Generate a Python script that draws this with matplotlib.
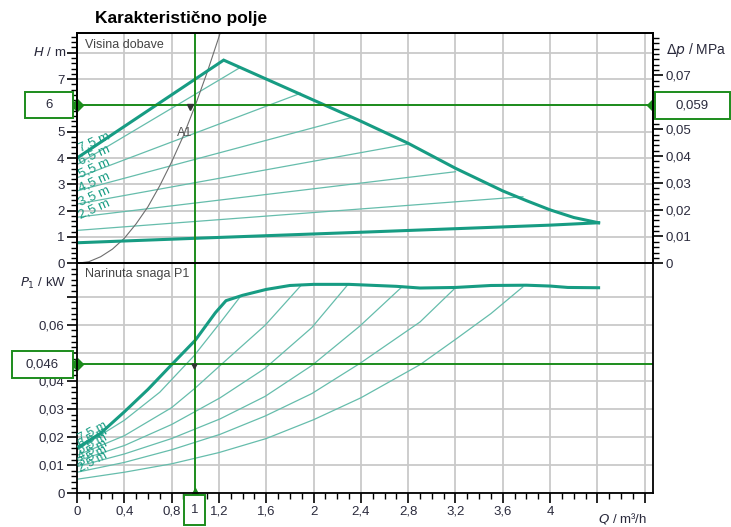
import matplotlib.pyplot as plt
import matplotlib.ticker as mticker
from matplotlib.patches import Rectangle

plt.rcParams['font.family'] = ['Liberation Sans', 'DejaVu Sans']

# ---- data ----
setpoints = ["7,5 m", "6,5 m", "5,5 m", "4,5 m", "3,5 m", "2,5 m"]

# delivery head, max / min curves
hmax_q = [0, 1.24, 2.0, 2.39, 2.8, 3.2, 3.6, 3.8, 4.0, 4.2, 4.41]
hmax_h = [4.0, 7.72, 6.2, 5.42, 4.56, 3.61, 2.75, 2.38, 2.03, 1.74, 1.54]
hmin_q = [0, 1.0, 2.4, 4.0, 4.41]
hmin_h = [0.78, 0.95, 1.18, 1.45, 1.54]

# dp-v control lines (straight), start at Q=0
dpv_start_h = [3.75, 3.25, 2.75, 2.25, 1.75, 1.25]
dpv_end_q = [1.38, 1.89, 2.33, 2.8, 3.2, 3.77]
dpv_end_h = [7.44, 6.46, 5.55, 4.53, 3.48, 2.53]

# system curve
sys_q = [0, 0.1, 0.2, 0.3, 0.4, 0.5, 0.6, 0.7, 0.8, 0.9, 1.0, 1.1, 1.2, 1.25]
sys_h = [0, 0.06, 0.25, 0.54, 0.95, 1.5, 2.15, 2.95, 3.85, 4.85, 6.0, 7.25,
         8.6, 9.3]

# power input P1, max curve
pmax_q = [0, 0.2, 0.4, 0.6, 0.8, 1.0, 1.17, 1.26, 1.4, 1.6, 1.8, 2.0, 2.3,
          2.7, 2.9, 3.2, 3.5, 3.8, 4.0, 4.15, 4.41]
pmax_p = [0.0161, 0.0214, 0.0290, 0.0370, 0.0458, 0.0545, 0.0643, 0.0686,
          0.0705, 0.0726, 0.0740, 0.0744, 0.0744, 0.0737, 0.0731, 0.0733,
          0.0740, 0.0741, 0.0738, 0.0733, 0.0732]

# power for each dp-v line
p_q = [
    [0, 0.4, 0.7, 0.99, 1.21, 1.38],
    [0, 0.4, 0.8, 1.0, 1.21, 1.59, 1.9],
    [0, 0.4, 0.8, 1.21, 1.59, 1.985, 2.29],
    [0, 0.4, 0.8, 1.21, 1.59, 1.985, 2.39, 2.75],
    [0, 0.4, 0.8, 1.21, 1.59, 1.985, 2.39, 2.9, 3.2],
    [0, 0.4, 0.8, 1.2, 1.6, 2.0, 2.4, 2.9, 3.2, 3.5, 3.77],
]
p_p = [
    [0.0155, 0.026, 0.036, 0.049, 0.0607, 0.0700],
    [0.0135, 0.0205, 0.0305, 0.0375, 0.0455, 0.0598, 0.0743],
    [0.0115, 0.0170, 0.0245, 0.0340, 0.0445, 0.0590, 0.0743],
    [0.0095, 0.0140, 0.0195, 0.0265, 0.0345, 0.0455, 0.0595, 0.0736],
    [0.0075, 0.0110, 0.0155, 0.0210, 0.0275, 0.0355, 0.0462, 0.0610, 0.0732],
    [0.005, 0.0075, 0.0105, 0.0145, 0.0195, 0.0262, 0.0340, 0.0458, 0.0548,
     0.0640, 0.0735],
]

duty_q = 1.0
duty_h = 6.0
duty_dp = "0,059"
duty_p = 0.046

teal = '#179c83'
teal_thin = '#66bdac'
green = '#1c8c1c'
grid_c = '#c9c9c9'
txt_c = '#2a2a3c'

W, H = 731, 527
fig = plt.figure(figsize=(W / 100, H / 100), dpi=100)
ax1 = fig.add_axes([77 / W, 1 - 263.3 / H, 576 / W, 230.3 / H])
ax2 = fig.add_axes([77 / W, 1 - 493.3 / H, 576 / W, 230 / H])

for ax in (ax1, ax2):
    ax.set_xlim(0, 4.87)
    for s in ax.spines.values():
        s.set_linewidth(1.3)
    ax.set_axisbelow(True)
    ax.xaxis.set_major_locator(mticker.MultipleLocator(0.4))
    ax.grid(True, color=grid_c, lw=1.3)

# ---- upper panel ----
ax1.set_ylim(0, 8.75)
ax1.set_yticks(range(0, 9))
ax1.set_yticklabels(["0", "1", "2", "3", "4", "5", "", "7", ""])
ax1.yaxis.set_minor_locator(mticker.MultipleLocator(0.2))
ax1.tick_params(axis='x', bottom=False, labelbottom=False)
ax1.tick_params(axis='y', which='major', length=7, width=1.2, labelsize=9.5,
                labelcolor=txt_c, pad=2)
ax1.tick_params(axis='y', which='minor', length=4, width=1.0)

for i in range(len(setpoints)):
    ax1.plot([0, dpv_end_q[i]], [dpv_start_h[i], dpv_end_h[i]], color=teal_thin, lw=0.9)
ax1.plot(sys_q, sys_h, color='#6e6e6e', lw=0.8)
ax1.plot(hmax_q, hmax_h, color=teal, lw=2.2, solid_joinstyle='miter')
ax1.plot(hmin_q, hmin_h, color=teal, lw=2.2)

lab_h = [4.25, 3.75, 3.25, 2.72, 2.2, 1.7]
for s, y in zip(setpoints, lab_h):
    ax1.text(0.03, y, s, color=teal, fontsize=9.5, rotation=24,
             rotation_mode='anchor', ha='left', va='baseline')

ax1.axhline(duty_h, color=green, lw=1.4)
ax1.axvline(duty_q, color=green, lw=1.4)
ax1.plot([0], [duty_h], marker='D', ms=6, color=green, clip_on=False)
ax1.plot([4.87], [duty_h], marker='D', ms=6, color=green, clip_on=False)
ax1.plot([0.955], [5.92], marker='v', ms=5, color='#333333')
ax1.text(0.91, 4.95, "A1", fontsize=9, color='#555555', ha='center', va='center')
ax1.text(0.07, 8.3, "Visina dobave", fontsize=9, color='#444444', va='center')

axr = ax1.twinx()
axr.set_ylim(0, 8.75 * 0.00981)
axr.set_yticks([i / 100 for i in range(8)])
axr.set_yticklabels(["0", "0,01", "0,02", "0,03", "0,04", "0,05", "", "0,07"])
axr.yaxis.set_minor_locator(mticker.MultipleLocator(0.002))
axr.tick_params(axis='y', which='major', length=7, width=1.2, labelsize=9.5,
                labelcolor=txt_c, pad=2)
axr.tick_params(axis='y', which='minor', length=4, width=1.0)
for s in axr.spines.values():
    s.set_linewidth(1.3)

# ---- lower panel ----
ax2.set_ylim(0, 0.0819)
ax2.set_yticks([i / 100 for i in range(8)])
ax2.set_yticklabels(["0", "0,01", "0,02", "0,03", "0,04", "", "0,06", ""])
ax2.yaxis.set_minor_locator(mticker.MultipleLocator(0.002))
ax2.xaxis.set_minor_locator(mticker.MultipleLocator(0.1))
xt = [i * 0.4 for i in range(13)]
ax2.set_xticks(xt)
ax2.set_xticklabels([f"{round(v, 1):g}".replace('.', ',') for v in xt[:11]] + ["", ""])
ax2.tick_params(which='major', length=7, width=1.2, labelsize=9.5,
                labelcolor=txt_c, pad=2)
ax2.tick_params(which='minor', length=4.5, width=1.0)

for q, p in zip(p_q, p_p):
    ax2.plot(q, p, color=teal_thin, lw=0.9)
ax2.plot(pmax_q, pmax_p, color=teal, lw=2.2)

lab_p = [0.0185, 0.0162, 0.0140, 0.0118, 0.0097, 0.0076]
for s, y in zip(setpoints, lab_p):
    ax2.text(0.03, y, s, color=teal, fontsize=9, rotation=28,
             rotation_mode='anchor', ha='left', va='baseline')

ax2.axhline(duty_p, color=green, lw=1.4)
ax2.axvline(duty_q, color=green, lw=1.4)
ax2.plot([0], [duty_p], marker='D', ms=6, color=green, clip_on=False)
ax2.plot([duty_q], [0], marker='^', ms=7, color=green, clip_on=False)
ax2.plot([0.985], [0.0452], marker='v', ms=3.5, color='#333333')
ax2.text(0.07, 0.0782, "Narinuta snaga P1", fontsize=9, color='#444444', va='center')

# ---- axis titles ----
fig.text(95 / W, 1 - 18 / H, "Karakteristično polje", fontsize=12.5,
         fontweight='bold', va='center', ha='left')
fig.text(66 / W, 1 - 52 / H, r"$H$ / m", fontsize=9.5, color=txt_c,
         ha='right', va='center')
fig.text(666 / W, 1 - 50 / H, r"$\Delta p$ / MPa", fontsize=10, color=txt_c,
         ha='left', va='center')
fig.text(66 / W, 1 - 283 / H, r"$P_1$ / kW", fontsize=9.5, color=txt_c,
         ha='right', va='center')
fig.text(598 / W, 1 - 519 / H, r"$Q$ / m³/h", fontsize=9.5, color=txt_c,
         ha='left', va='center')


# ---- value boxes ----
def value_box(ax, xv, yv, dx0, dx1, hh, text, ycenter=None):
    px, py = ax.transData.transform((xv, yv))
    if ycenter is not None:
        py = ycenter
    x0, x1 = px + dx0, px + dx1
    fig.add_artist(Rectangle((x0 / W, (py - hh / 2) / H), (x1 - x0) / W, hh / H,
                             transform=fig.transFigure, facecolor='white',
                             edgecolor=green, lw=1.4, zorder=5))
    fig.text((x0 + x1) / 2 / W, py / H, text, ha='center', va='center',
             fontsize=9.5, color=txt_c, zorder=6)


value_box(ax1, 0, duty_h, -52, -4, 26, "6")
value_box(ax1, 4.87, duty_h, 2, 77, 27, duty_dp)
value_box(ax2, 0, duty_p, -65, -4, 27, "0,046")
value_box(ax2, duty_q, 0, -11, 10, 30, "1", ycenter=H - 510)

fig.savefig("out.png", dpi=100)
